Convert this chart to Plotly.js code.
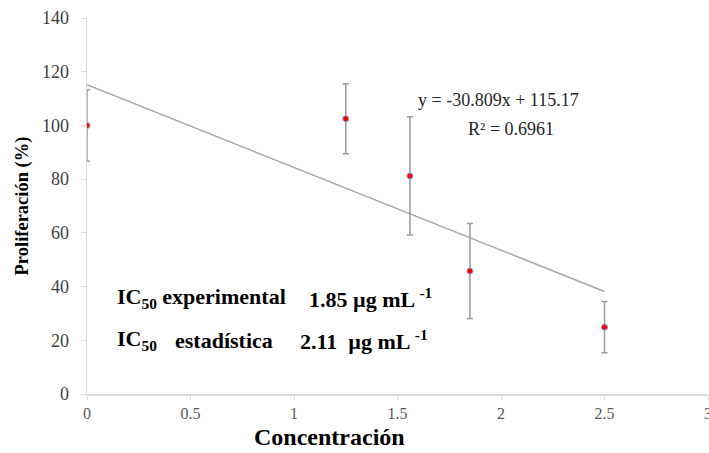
<!DOCTYPE html>
<html>
<head>
<meta charset="utf-8">
<script src="https://cdn.plot.ly/plotly-3.0.1.min.js"></script>
<style>html,body{margin:0;padding:0;background:#fff}#chart{width:709px;height:453px}</style>
</head>
<body>
<div id="chart"></div>
<script>
const concentrations = [0, 1.25, 1.56, 1.85, 2.5];
const proliferation = [100, 102.5, 81.2, 45.8, 24.9];
const errors = [13.3, 13, 22, 17.7, 9.5];
const slope = -30.809;
const intercept = 115.17;
const trendX = [0, 2.5];
const trendY = trendX.map(x => slope * x + intercept);
const xTicks = [0, 0.5, 1, 1.5, 2, 2.5, 3];
const yTicks = [0, 20, 40, 60, 80, 100, 120, 140];

const serif = "Liberation Serif, Times New Roman, serif";
const L = 87, W = 621, T = 18, H = 376;
const px = x => (x - L) / W;
const py = y => (T + H - y) / H;

const data = [
  {
    x: trendX, y: trendY, type: 'scatter', mode: 'lines',
    line: {color: '#a6a6a6', width: 1.5}, hoverinfo: 'skip', showlegend: false
  },
  {
    x: concentrations, y: proliferation, type: 'scatter', mode: 'markers',
    marker: {color: '#ff0000', size: 6, line: {color: '#7f9fd8', width: 1}},
    error_y: {type: 'data', array: errors, visible: true, color: '#9a9a9a', thickness: 1.5, width: 3},
    showlegend: false
  }
];

const boldIC = {family: serif, size: 22, color: '#000'};
const eqFont = {family: serif, size: 18, color: '#262626'};

const layout = {
  width: 709, height: 453,
  margin: {l: L, r: 1, t: T, b: 59},
  paper_bgcolor: '#ffffff', plot_bgcolor: '#ffffff',
  showlegend: false,
  xaxis: {
    range: [0, 3], tickvals: xTicks, ticktext: xTicks.map(String),
    showgrid: false, zeroline: false, showline: true, linecolor: '#d9d9d9', linewidth: 1.5,
    ticks: 'outside', ticklen: 4, tickcolor: '#d9d9d9', ticklabeloverflow: 'allow',
    tickfont: {family: serif, size: 16, color: '#595959'}
  },
  yaxis: {
    range: [0, 140], tickvals: yTicks,
    showgrid: false, zeroline: false, showline: true, linecolor: '#d9d9d9', linewidth: 1.5,
    ticks: 'outside', ticklen: 5, tickcolor: '#d9d9d9', ticklabelstandoff: 8,
    tickfont: {family: serif, size: 18, color: '#404040'},
    title: {text: '<b>Proliferación (%)</b>', standoff: 8, font: {family: serif, size: 18.5, color: '#000'}}
  },
  annotations: [
    {xref: 'paper', yref: 'paper', x: px(329), y: py(437), xanchor: 'center', yanchor: 'middle',
     text: '<b>Concentración</b>', showarrow: false, font: {family: serif, size: 24, color: '#000'}},
    {xref: 'paper', yref: 'paper', x: px(416), y: py(100), xanchor: 'left', yanchor: 'middle',
     text: 'y = -30.809x + 115.17', showarrow: false, font: eqFont},
    {xref: 'paper', yref: 'paper', x: px(511), y: py(129), xanchor: 'center', yanchor: 'middle',
     text: 'R² = 0.6961', showarrow: false, font: eqFont},
    {xref: 'paper', yref: 'paper', x: px(115), y: py(298), xanchor: 'left', yanchor: 'middle',
     text: '<b>IC<sub>50</sub> experimental</b>', showarrow: false, font: boldIC},
    {xref: 'paper', yref: 'paper', x: px(307), y: py(298), xanchor: 'left', yanchor: 'middle',
     text: '<b>1.85 µg mL <sup>-1</sup></b>', showarrow: false, font: boldIC},
    {xref: 'paper', yref: 'paper', x: px(115), y: py(340), xanchor: 'left', yanchor: 'middle',
     text: '<b>IC<sub>50</sub></b>', showarrow: false, font: boldIC},
    {xref: 'paper', yref: 'paper', x: px(173), y: py(340), xanchor: 'left', yanchor: 'middle',
     text: '<b>estadística</b>', showarrow: false, font: boldIC},
    {xref: 'paper', yref: 'paper', x: px(298), y: py(340), xanchor: 'left', yanchor: 'middle',
     text: '<b>2.11  µg mL <sup>-1</sup></b>', showarrow: false, font: boldIC}
  ]
};

Plotly.newPlot('chart', data, layout, {displayModeBar: false, staticPlot: true});
</script>
</body>
</html>
